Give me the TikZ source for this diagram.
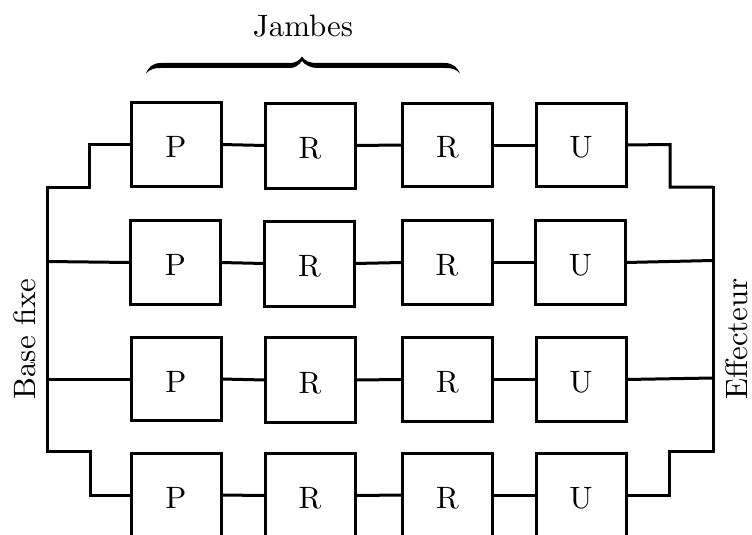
\documentclass[tikz,border=0pt]{standalone}
\newcommand{\lblbox}[1]{\smash{\lower13pt\hbox{\scalebox{3.09}{#1}}}}
\newcommand{\lblfree}[1]{\scalebox{3.09}{#1}}
\tikzset{
  joint/.style={draw=black,line width=3pt,minimum width=90pt,minimum height=83.5pt,inner sep=0pt,outer sep=0pt},
  link/.style={draw=black,line width=3pt,line cap=rect,line join=miter},
  freetext/.style={inner sep=0pt,outer sep=0pt}
}
\begin{document}
\begin{tikzpicture}[x=1pt,y=-1pt]
\path[use as bounding box] (0,0) rectangle (752,535);
\begin{scope}
\clip (0,0) rectangle (752,535);
% row 1
\node[joint] (p1) at (176,144.5) {\lblbox{P}};
\node[joint,minimum height=85pt] (ra1) at (310,145.5) {\lblbox{R}};
\node[joint] (rb1) at (447.5,145) {\lblbox{R}};
\node[joint] (u1) at (581,145) {\lblbox{U}};
% row 2
\node[joint] (p2) at (175.5,262.5) {\lblbox{P}};
\node[joint,minimum height=85pt] (ra2) at (309.5,263.5) {\lblbox{R}};
\node[joint] (rb2) at (447,262.5) {\lblbox{R}};
\node[joint] (u2) at (580.5,262.5) {\lblbox{U}};
% row 3
\node[joint] (p3) at (176,379) {\lblbox{P}};
\node[joint,minimum height=85pt] (ra3) at (310,380) {\lblbox{R}};
\node[joint] (rb3) at (447.5,379.5) {\lblbox{R}};
\node[joint] (u3) at (581,379.5) {\lblbox{U}};
% row 4
\node[joint] (p4) at (176,495) {\lblbox{P}};
\node[joint,minimum height=85pt] (ra4) at (310,495.5) {\lblbox{R}};
\node[joint] (rb4) at (447.5,495) {\lblbox{R}};
\node[joint] (u4) at (581,495) {\lblbox{U}};
\end{scope}
% free ends
\coordinate (bt) at (47,187);
\coordinate (bb) at (47,451);
\coordinate (et) at (713,187);
\coordinate (eb) at (713,451);
\coordinate (b2) at (47,261.5);
\coordinate (b3) at (47,379);
\coordinate (e2) at (713,260.5);
\coordinate (e3) at (713,378);
% bars
\draw[link] (bt) -- (bb);
\draw[link] (et) -- (eb);
% stepped ends
\draw[link,line cap=butt] (bt) -- (89,187) -- (89,144.5) -- (p1.west);
\draw[link,line cap=butt] (bb) -- (90,451) -- (90,495) -- (p4.west);
\draw[link,line cap=butt] (u1.east) -- (670,144.5) -- (670,187) -- (et);
\draw[link,line cap=butt] (u4.east) -- (669,495) -- (669,451) -- (eb);
\draw[link,line cap=butt] (b2) -- (p2.west);
\draw[link,line cap=butt] (b3) -- (p3.west);
\draw[link,line cap=butt] (u2.east) -- (e2);
\draw[link,line cap=butt] (u3.east) -- (e3);
% rows
\foreach \r in {1,2,3,4}{
  \draw[link,line cap=butt] (p\r.east) -- (ra\r.west);
  \draw[link,line cap=butt] (ra\r.east) -- (rb\r.west);
  \draw[link,line cap=butt] (rb\r.east) -- (u\r.west);
}
% brace
\fill[black] (146,73.5) .. controls (148,68) and (152,63) .. (161,63)
  -- (290,63) .. controls (295,63) and (299,61) .. (302,56.5)
  .. controls (305,61) and (309,63) .. (317,63)
  -- (445,63) .. controls (453,63) and (458,68) .. (460,73.5)
  .. controls (456,69) and (452,68) .. (445,68)
  -- (317,68) .. controls (311,68) and (305,65) .. (302,61)
  .. controls (299,65) and (295,68) .. (290,68)
  -- (161,68) .. controls (154,68) and (150,69) .. (146,73.5) -- cycle;
% labels
\node[freetext,anchor=base] (jambes) at (303,37) {\lblfree{Jambes}};
\node[freetext,anchor=base,rotate=90] (base) at (35,339) {\lblfree{Base fixe}};
\node[freetext,anchor=base,rotate=90] (eff) at (747.5,339) {\lblfree{Effecteur}};
\end{tikzpicture}
\end{document}
